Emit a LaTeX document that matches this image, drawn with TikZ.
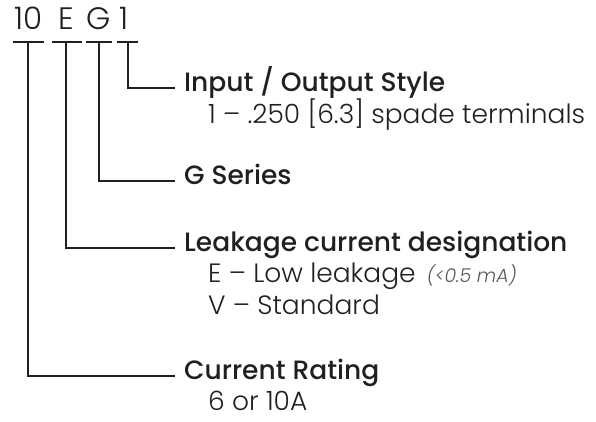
\documentclass[tikz,border=0pt]{standalone}
\usepackage{fontspec}
\setmainfont{Poppins}[UprightFont=* Light, ItalicFont=* Light Italic, BoldFont=* Medium]
\usepackage{xcolor}
\usepackage{tikz}
\usetikzlibrary{positioning}
\definecolor{ink}{HTML}{231F20}
\definecolor{note}{HTML}{58595B}
\tikzset{
  lead/.style={draw=ink, line width=2pt},
  code/.style={anchor=base, inner sep=0pt, text=ink, font=\fontsize{31}{31}\selectfont},
  head/.style={anchor=west, inner xsep=9pt, inner ysep=0pt, text height=0.7em, text depth=0pt, text=ink, font=\fontsize{26.5}{26.5}\selectfont\bfseries},
  sub/.style={anchor=base west, inner sep=0pt, text=ink, font=\fontsize{26.5}{26.5}\selectfont},
}

\begin{document}
\begin{tikzpicture}[x=1pt, y=1pt]
  \useasboundingbox (0,0) rectangle (596,-421);
  % code letters
  \node[code] (c10) at (29,-29) {10};
  \node[code] (cE) at (66,-29) {E};
  \node[code] (cG) at (99,-29) {G};
  \node[code] (c1) at (124,-29) {1};
  % headings
  \node[head] (hIO) at (175,-88) {Input / Output Style};
  \node[head] (hG) at (175,-181) {G Series};
  \node[head] (hLC) at (175,-248) {Leakage current designation};
  \node[head] (hCR) at (175,-376) {Current Rating};
  % options
  \node[sub] (sIO) at ([xshift=33pt, yshift=-32pt]hIO.base west) {1 -- .250 [6.3] spade terminals};
  \node[sub] (sLE) at ([xshift=33pt, yshift=-31pt]hLC.base west) {E -- Low leakage\hspace{4pt} \textcolor{note}{\fontsize{19}{19}\selectfont\itshape(<0.5 mA)}};
  \node[sub] (sLV) at ([yshift=-32pt]sLE.base west) {V -- Standard};
  \node[sub] (sCR) at ([xshift=33pt, yshift=-31pt]hCR.base west) {6 or 10A};
  % leaders
  \foreach \n/\x/\l/\r/\h in {10/28/15/16/hCR, E/66/14/16/hLC, G/99/13/13/hG, 1/128/11/10/hIO} {
    \coordinate (b\n) at (\x,-42);
    \draw[lead] ([xshift=-\l pt]b\n) -- ([xshift=\r pt]b\n);
    \draw[lead] (b\n) |- (\h.west);
  }
\end{tikzpicture}
\end{document}
